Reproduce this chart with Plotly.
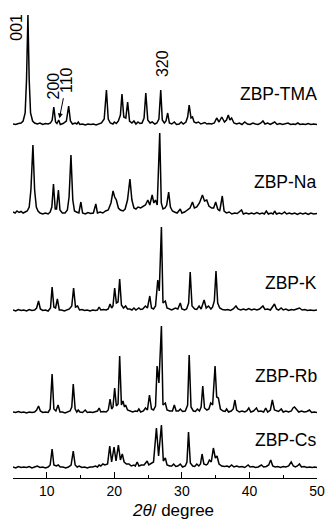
import plotly.graph_objects as go

# (2theta, intensity above own baseline) vertices
TMA = [(5.0,1),(5.4,0.5),(5.8,1.5),(6.2,2),(6.5,4),(6.8,12),(7.0,45),(7.21,110),(7.4,45),(7.6,12),(7.9,4),(8.2,2),(8.6,1),(9.0,2),(9.4,0.5),(9.8,1.5),(10.2,1),(10.55,2),(10.8,5),(11.04,18),(11.3,3),(11.5,1.5),(11.77,5),(12.0,0.5),(12.4,1.5),(12.9,4),(13.24,19),(13.5,4),(13.8,1),(14.2,2),(14.45,1),(14.66,3),(14.9,0.5),(15.3,1),(15.7,0),(16.1,1),(16.5,0.5),(16.9,1),(17.3,0),(17.7,1),(18.1,2),(18.5,6),(18.83,35),(19.1,6),(19.4,2),(19.8,1),(20.0,3),(20.3,1.5),(20.6,4),(20.9,10),(21.13,31),(21.4,8),(21.7,7),(21.97,23),(22.25,4),(22.6,2),(22.9,4),(23.2,1),(23.5,3),(23.8,1.5),(24.1,2),(24.4,7),(24.66,32),(24.95,5),(25.3,2),(25.6,3),(26.0,1),(26.3,2),(26.6,6),(26.87,35),(27.1,5),(27.4,2),(27.65,4),(27.9,12),(28.15,2),(28.5,1),(28.88,3),(29.2,0.5),(29.6,1),(29.9,3),(30.2,1),(30.6,3),(30.85,8),(31.08,20),(31.35,7),(31.57,8),(31.8,3),(32.1,2),(32.45,3),(32.8,1),(33.1,2),(33.4,2.5),(33.7,1),(34.0,1.5),(34.4,1),(34.8,2),(35.15,7),(35.5,3),(35.9,8),(36.3,3),(36.6,5),(36.87,10),(37.1,5),(37.36,7),(37.7,2),(38.1,1),(38.5,2),(38.9,0.5),(39.3,3),(39.7,1),(40.1,0.5),(40.5,2),(40.9,1),(41.3,0.5),(41.7,2),(42.0,4),(42.3,1),(42.7,2),(43.1,0.5),(43.4,1.5),(43.73,3),(44.1,0.5),(44.5,1.5),(44.9,0.5),(45.3,1),(45.7,2),(46.1,0.5),(46.5,1),(46.8,0.5),(47.16,2),(47.5,0.5),(47.9,1),(48.3,0.5),(48.7,1.5),(49.1,0.5),(49.5,1),(50.0,0.5)]

NA = [(5.0,3),(5.3,2),(5.6,4),(5.9,2.5),(6.2,3.5),(6.5,2),(6.8,3),(7.1,4),(7.4,8),(7.65,25),(7.95,70),(8.2,25),(8.45,8),(8.7,4),(9.0,2),(9.4,1),(9.8,2),(10.2,1),(10.5,3),(10.75,8),(10.99,31),(11.25,6),(11.45,6),(11.72,25),(11.95,5),(12.3,2),(12.7,2),(13.05,5),(13.3,18),(13.58,60),(13.85,15),(14.1,4),(14.4,3),(14.75,2),(15.05,13),(15.3,2),(15.7,1),(16.1,2.5),(16.5,1.5),(16.9,2),(17.26,11),(17.5,2),(17.9,3),(18.3,2),(18.7,4),(19.1,5),(19.5,12),(19.81,24),(20.05,18),(20.3,15),(20.6,7),(20.9,5),(21.3,4),(21.6,6),(21.95,15),(22.31,36),(22.6,15),(22.9,7),(23.2,6),(23.5,8),(23.9,7),(24.3,9),(24.6,10),(24.96,15),(25.25,10),(25.6,20),(25.85,12),(26.09,15),(26.35,10),(26.72,82),(26.95,12),(27.2,6),(27.5,7),(27.75,10),(28.04,23),(28.3,8),(28.6,4),(28.9,3),(29.3,2),(29.76,6),(30.0,2),(30.4,3),(30.8,5),(31.2,7),(31.57,13),(31.85,7),(32.2,8),(32.6,12),(33.04,20),(33.35,14),(33.68,15),(34.0,9),(34.4,7),(34.7,7),(35.0,13),(35.3,6),(35.6,4),(35.98,19),(36.25,4),(36.6,2),(37.0,3),(37.4,1),(37.8,2),(38.2,1.5),(38.83,5),(39.1,1),(39.5,2),(39.9,1),(40.3,2),(40.7,1),(41.1,2.5),(41.5,1),(41.9,2),(42.2,1),(42.5,4),(42.8,1),(43.2,2),(43.5,1),(43.73,4),(44.0,1),(44.4,2),(44.8,1),(45.2,3),(45.5,1),(45.9,2),(46.3,1),(46.7,2),(47.1,0.5),(47.5,2),(47.9,1),(48.3,2),(48.7,0.5),(49.1,2),(49.5,1),(50.0,1.5)]

K = [(5.0,1),(5.4,0),(5.8,1.5),(6.2,0.5),(6.6,1),(7.0,0),(7.4,1.5),(7.8,0.5),(8.2,1),(8.5,3),(8.78,10),(9.05,2),(9.4,0.5),(9.8,1),(10.2,0),(10.55,3),(10.79,24),(11.05,4),(11.3,3),(11.57,12),(11.85,1),(12.2,1),(12.6,0),(13.0,1),(13.35,2),(13.7,5),(13.97,23),(14.25,4),(14.56,5),(14.85,1),(15.2,1.5),(15.6,0.5),(16.0,1),(16.4,0),(16.8,1),(17.2,0.5),(17.5,1),(17.75,4),(18.0,1),(18.4,1.5),(18.8,1),(19.1,2),(19.37,7),(19.6,3),(19.8,5),(20.05,23),(20.3,8),(20.55,9),(20.79,32),(21.05,6),(21.35,3),(21.67,5),(21.95,2),(22.3,2),(22.6,1),(22.9,3),(23.2,1),(23.63,3),(23.9,1.5),(24.2,2),(24.6,5),(24.9,3),(25.25,15),(25.5,3),(25.8,2),(26.1,5),(26.43,31),(26.65,20),(26.97,84),(27.2,8),(27.55,10),(27.8,3),(28.1,2),(28.5,1),(29.03,3),(29.4,2),(29.76,8),(30.0,2),(30.4,1),(30.7,2),(31.0,8),(31.23,39),(31.5,5),(31.9,2),(32.2,1.5),(32.55,5),(32.85,2),(33.29,11),(33.6,3),(33.93,5),(34.3,2),(34.55,4),(34.8,10),(35.05,40),(35.3,8),(35.6,3),(36.0,1.5),(36.4,1),(36.8,1.5),(37.2,0.5),(37.6,2),(38.0,5),(38.3,2),(38.7,1),(39.1,2),(39.5,1),(39.9,2.5),(40.3,1),(40.7,2),(41.1,1),(41.5,2),(41.99,5),(42.3,1.5),(42.7,2),(43.1,1),(43.4,4),(43.7,7),(44.0,2),(44.3,1),(44.7,3),(45.0,1),(45.4,2),(45.8,0.5),(46.2,1.5),(46.6,1),(47.0,2),(47.4,3),(47.8,1),(48.2,1.5),(48.6,0.5),(49.0,1),(49.5,0.5),(50.0,1)]

RB = [(5.0,1),(5.4,0.5),(5.8,1.5),(6.2,0.5),(6.6,1),(7.0,0),(7.4,1),(7.8,0.5),(8.2,1),(8.5,3),(8.78,7),(9.05,2),(9.4,0.5),(9.8,1),(10.2,0.5),(10.5,4),(10.79,39),(11.05,4),(11.35,2),(11.67,8),(11.95,1),(12.3,1),(12.7,0),(13.1,1),(13.45,2),(13.7,6),(13.92,29),(14.2,4),(14.45,1),(14.66,3),(14.9,1),(15.3,0.5),(15.69,3),(16.0,0.5),(16.4,1),(16.8,0.5),(17.2,1),(17.5,2),(17.75,5),(18.0,1),(18.4,1.5),(18.8,1),(19.1,3),(19.37,14),(19.6,4),(19.8,6),(20.05,25),(20.3,7),(20.55,9),(20.79,57),(21.05,8),(21.28,12),(21.5,6),(21.67,8),(21.95,3),(22.3,2),(22.7,1),(23.1,2),(23.4,1.5),(23.63,4),(23.9,1),(24.3,2),(24.61,5),(24.9,3),(25.2,18),(25.5,4),(25.8,3),(26.1,7),(26.33,47),(26.6,30),(26.97,87),(27.2,8),(27.55,10),(27.8,3),(28.2,2),(28.6,2),(28.88,8),(29.15,2),(29.5,2),(29.76,4),(30.1,1.5),(30.5,2),(30.85,8),(31.08,58),(31.35,6),(31.7,2),(32.0,1.5),(32.3,4),(32.6,2),(32.85,6),(33.09,27),(33.35,5),(33.7,3),(34.0,4),(34.27,10),(34.55,8),(34.91,47),(35.15,16),(35.4,15),(35.7,4),(36.1,2),(36.4,1.5),(36.62,4),(36.9,1),(37.3,2),(37.6,4),(37.85,13),(38.1,3),(38.5,1),(38.9,2),(39.3,1),(39.6,2),(39.91,5),(40.2,1),(40.6,2),(41.04,5),(41.3,1.5),(41.7,2),(42.1,1),(42.41,5),(42.7,1),(43.1,3),(43.39,13),(43.7,3),(44.0,2),(44.3,1.5),(44.71,4),(45.0,1),(45.4,2),(45.8,1),(46.2,2),(46.45,5),(46.67,6),(46.95,4),(47.3,1),(47.7,2),(48.1,1),(48.5,1.5),(48.88,3),(49.2,0.5),(49.6,1),(50.0,0.5)]

CS = [(5.0,1),(5.4,0),(5.8,1.5),(6.2,0.5),(6.6,1),(7.0,0.5),(7.4,1.5),(7.8,0),(8.2,1),(8.6,2),(9.0,0.5),(9.4,1),(9.8,0),(10.2,1),(10.5,3),(10.79,19),(11.05,3),(11.4,2),(11.7,3),(12.0,1),(12.4,1),(12.8,0),(13.2,1),(13.6,3),(13.92,17),(14.2,3),(14.5,1),(14.8,2),(15.2,0.5),(15.6,1),(16.0,0),(16.4,1),(16.8,1),(17.2,2),(17.5,1),(17.75,3),(18.0,2),(18.3,4),(18.6,3),(19.0,4),(19.32,22),(19.6,6),(19.96,21),(20.25,7),(20.6,23),(20.9,8),(21.18,14),(21.45,6),(21.8,4),(22.16,4),(22.5,2),(22.9,3),(23.1,2),(23.38,6),(23.65,2),(24.0,3),(24.4,3),(24.86,7),(25.1,3),(25.4,4),(25.8,6),(26.23,40),(26.55,12),(26.97,43),(27.25,7),(27.55,10),(27.8,3),(28.2,2),(28.5,2),(28.78,4),(29.1,1.5),(29.4,2),(29.76,4),(30.1,1),(30.5,2),(30.75,6),(30.98,36),(31.25,5),(31.6,2),(31.9,1.5),(32.21,4),(32.5,2),(32.75,4),(32.99,14),(33.25,4),(33.6,3),(33.8,4),(34.07,8),(34.35,6),(34.66,20),(34.95,10),(35.2,12),(35.5,4),(35.9,2),(36.3,1.5),(36.7,2),(37.0,1),(37.36,3),(37.7,1),(38.1,2),(38.5,1),(38.9,1.5),(39.3,0.5),(39.81,3),(40.1,1),(40.5,1.5),(40.9,0.5),(41.3,1),(41.77,3),(42.1,1),(42.5,1.5),(42.85,3),(43.15,8),(43.45,2),(43.8,1),(44.2,1.5),(44.6,0.5),(45.0,1.5),(45.4,1),(45.8,2),(46.18,6),(46.5,2),(46.8,1),(47.1,2),(47.4,4),(47.7,1),(48.1,1.5),(48.5,0.5),(48.9,1),(49.3,0.5),(49.7,1),(50.0,0.5)]

SAMPLE_NAMES = ["ZBP-TMA", "ZBP-Na", "ZBP-K", "ZBP-Rb", "ZBP-Cs"]
PATTERNS = [TMA, NA, K, RB, CS]
OFFSETS = [353, 263, 167, 65, 10]
LABEL_Y = [384, 296, 195.5, 102, 38]

# Miller index labels on ZBP-TMA pattern: (text, 2theta, y)
HKL_LABELS = [("001", 5.4, 451), ("200", 10.99, 392), ("110", 12.85, 398), ("320", 27.06, 414)]

X_TICKS = [10, 20, 30, 40, 50]

FONT = "Liberation Sans, Arial, sans-serif"

fig = go.Figure()
for pat, off in zip(PATTERNS, OFFSETS):
    xs = [p[0] for p in pat]
    ys = [p[1] + off for p in pat]
    fig.add_trace(go.Scatter(x=xs, y=ys, mode="lines",
                             line=dict(color="black", width=1.5),
                             showlegend=False, hoverinfo="skip"))

ann = []
for name, ly in zip(SAMPLE_NAMES, LABEL_Y):
    ann.append(dict(x=50, y=ly, xref="x", yref="y", text=name, showarrow=False,
                    xanchor="right", yanchor="middle", xshift=2,
                    font=dict(family=FONT, size=17.5, color="black")))
for txt, lx, ly in HKL_LABELS:
    ann.append(dict(x=lx, y=ly, xref="x", yref="y", text=txt, showarrow=False,
                    textangle=-90, xanchor="center", yanchor="middle",
                    font=dict(family=FONT, size=16, color="black")))
# arrow pointing to the 110 reflection
ann.append(dict(x=11.87, y=359.7, xref="x", yref="y", ax=12.5, ay=381.3,
                axref="x", ayref="y", text="", showarrow=True,
                arrowhead=2, arrowsize=1, arrowwidth=1, arrowcolor="black"))
# axis title
ann.append(dict(x=(174 - 13) / 306, y=(478 - 510.5) / 472, xref="paper", yref="paper",
                text="<i>2θ</i>/ degree", showarrow=False, xanchor="center", yanchor="middle",
                font=dict(family=FONT, size=17, color="black")))

fig.update_layout(
    width=331, height=519,
    margin=dict(l=13, r=12, t=6, b=41),
    paper_bgcolor="white", plot_bgcolor="white",
    annotations=ann,
    xaxis=dict(range=[5, 50], tickvals=X_TICKS, ticks="inside", ticklen=6, tickwidth=1,
               tickcolor="black", showline=True, linecolor="black", linewidth=1,
               showgrid=False, zeroline=False,
               minor=dict(dtick=5, tick0=0, ticks="inside", ticklen=3.5, tickwidth=1,
                          tickcolor="black", showgrid=False),
               tickfont=dict(family=FONT, size=14, color="black")),
    yaxis=dict(range=[0, 472], visible=False, showgrid=False, zeroline=False),
)

fig.write_html("out.html", config={"displayModeBar": False, "staticPlot": True},
               post_script="document.body.style.margin='0px';document.body.style.overflow='hidden';")
